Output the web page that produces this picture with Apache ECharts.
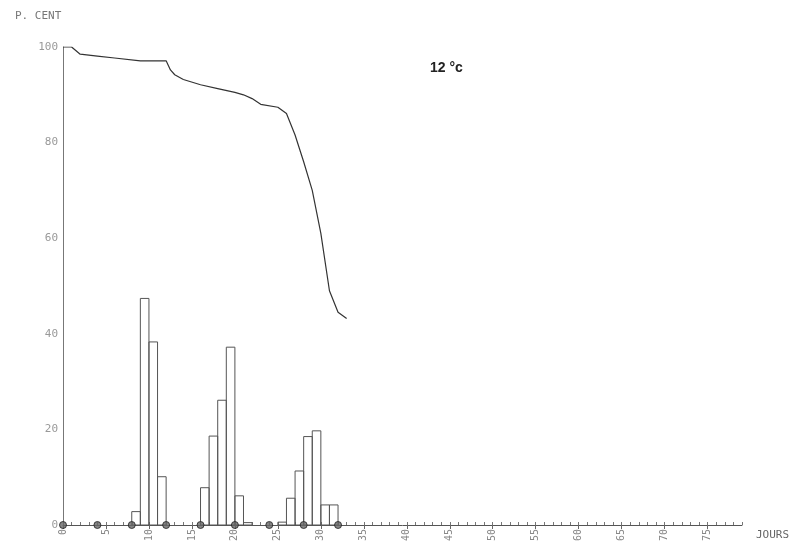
<!DOCTYPE html>
<html>
<head>
<meta charset="utf-8">
<script src="https://cdn.jsdelivr.net/npm/echarts@6/dist/echarts.min.js"></script>
<style>
html,body{margin:0;padding:0;background:#fff;}
#chart{width:793px;height:545px;}
</style>
</head>
<body>
<div id="chart"></div>
<script>
// Histogram: bars span [day, day+1]
const barStartDays = [8, 9, 10, 11, 16, 17, 18, 19, 20, 21, 25, 26, 27, 28, 29, 30, 31];
const barValues    = [2.8, 47.4, 38.3, 10.1, 7.8, 18.6, 26.1, 37.2, 6.1, 0.5, 0.6, 5.6, 11.3, 18.5, 19.7, 4.2, 4.2];

// Cumulative curve (per cent)
const lineDays   = [0, 1, 2, 4, 6, 9, 12, 12.5, 13, 14, 16, 18, 20, 21, 22, 23, 25, 26, 27, 28, 29, 30, 31, 32, 33];
const lineValues = [100, 100, 98.5, 98.1, 97.7, 97.1, 97.1, 95.2, 94.2, 93.2, 92.1, 91.3, 90.5, 90.0, 89.2, 88.0, 87.4, 86.1, 81.6, 76, 70, 61, 49, 44.5, 43.2];

// Observation markers on the axis
const markerDays = [0, 4, 8, 12, 16, 20, 24, 28, 32];

const yTicks = [0, 20, 40, 60, 80, 100];

const chart = echarts.init(document.getElementById('chart'));

const barData = barStartDays.map((d, i) => [d, d + 1, barValues[i]]);
const lineData = lineDays.map((d, i) => [d, lineValues[i]]);
const markerData = markerDays.map(d => [d, 0]);

const labelFont = 'DejaVu Sans Mono';

chart.setOption({
  animation: false,
  backgroundColor: '#ffffff',
  grid: { left: 63, right: 51, top: 47, bottom: 20, containLabel: false },
  xAxis: [
    {
      type: 'value', min: 0, max: 79, interval: 5,
      axisLine: { show: true, lineStyle: { color: '#555', width: 1 } },
      axisTick: { show: true, length: 4, lineStyle: { color: '#666' } },
      axisLabel: { rotate: 90, fontSize: 10, color: '#888', margin: 4, fontFamily: labelFont, showMaxLabel: false },
      splitLine: { show: false }
    },
    {
      type: 'value', min: 0, max: 79, interval: 1, position: 'bottom',
      axisLine: { show: false },
      axisTick: { show: true, length: 3, inside: true, lineStyle: { color: '#777' } },
      axisLabel: { show: false },
      splitLine: { show: false }
    }
  ],
  yAxis: {
    type: 'value', min: 0, max: 100, interval: 20,
    axisLine: { show: true, lineStyle: { color: '#777', width: 1 } },
    axisTick: { show: false },
    axisLabel: { fontSize: 11, color: '#999', margin: 5, fontFamily: labelFont,
      formatter: v => yTicks.includes(v) ? String(v) : '' },
    splitLine: { show: false }
  },
  series: [
    {
      type: 'custom',
      xAxisIndex: 0,
      data: barData,
      renderItem: function (params, api) {
        const p0 = api.coord([api.value(0), 0]);
        const p1 = api.coord([api.value(1), api.value(2)]);
        return {
          type: 'rect',
          shape: { x: p0[0], y: p1[1], width: p1[0] - p0[0], height: p0[1] - p1[1] },
          style: { fill: 'rgba(255,255,255,0)', stroke: '#555', lineWidth: 1 }
        };
      },
      encode: { x: [0, 1], y: 2 },
      z: 2
    },
    {
      type: 'line',
      xAxisIndex: 0,
      data: lineData,
      symbol: 'none',
      smooth: false,
      lineStyle: { color: '#333', width: 1.2 },
      z: 3
    },
    {
      type: 'scatter',
      xAxisIndex: 0,
      data: markerData,
      symbol: 'circle',
      symbolSize: 7,
      itemStyle: { color: '#666', borderColor: '#222', borderWidth: 1 },
      z: 4
    }
  ],
  graphic: [
    { type: 'text', left: 15, top: 11, style: { text: 'P. CENT', fontSize: 11, fill: '#777', fontFamily: labelFont } },
    { type: 'text', left: 430, top: 61, style: { text: '12 °c', fontSize: 14, fontWeight: 'bold', fill: '#222', fontFamily: 'Liberation Sans' } },
    { type: 'text', left: 756, top: 530, style: { text: 'JOURS', fontSize: 11, fill: '#666', fontFamily: labelFont } }
  ]
});
</script>
</body>
</html>
